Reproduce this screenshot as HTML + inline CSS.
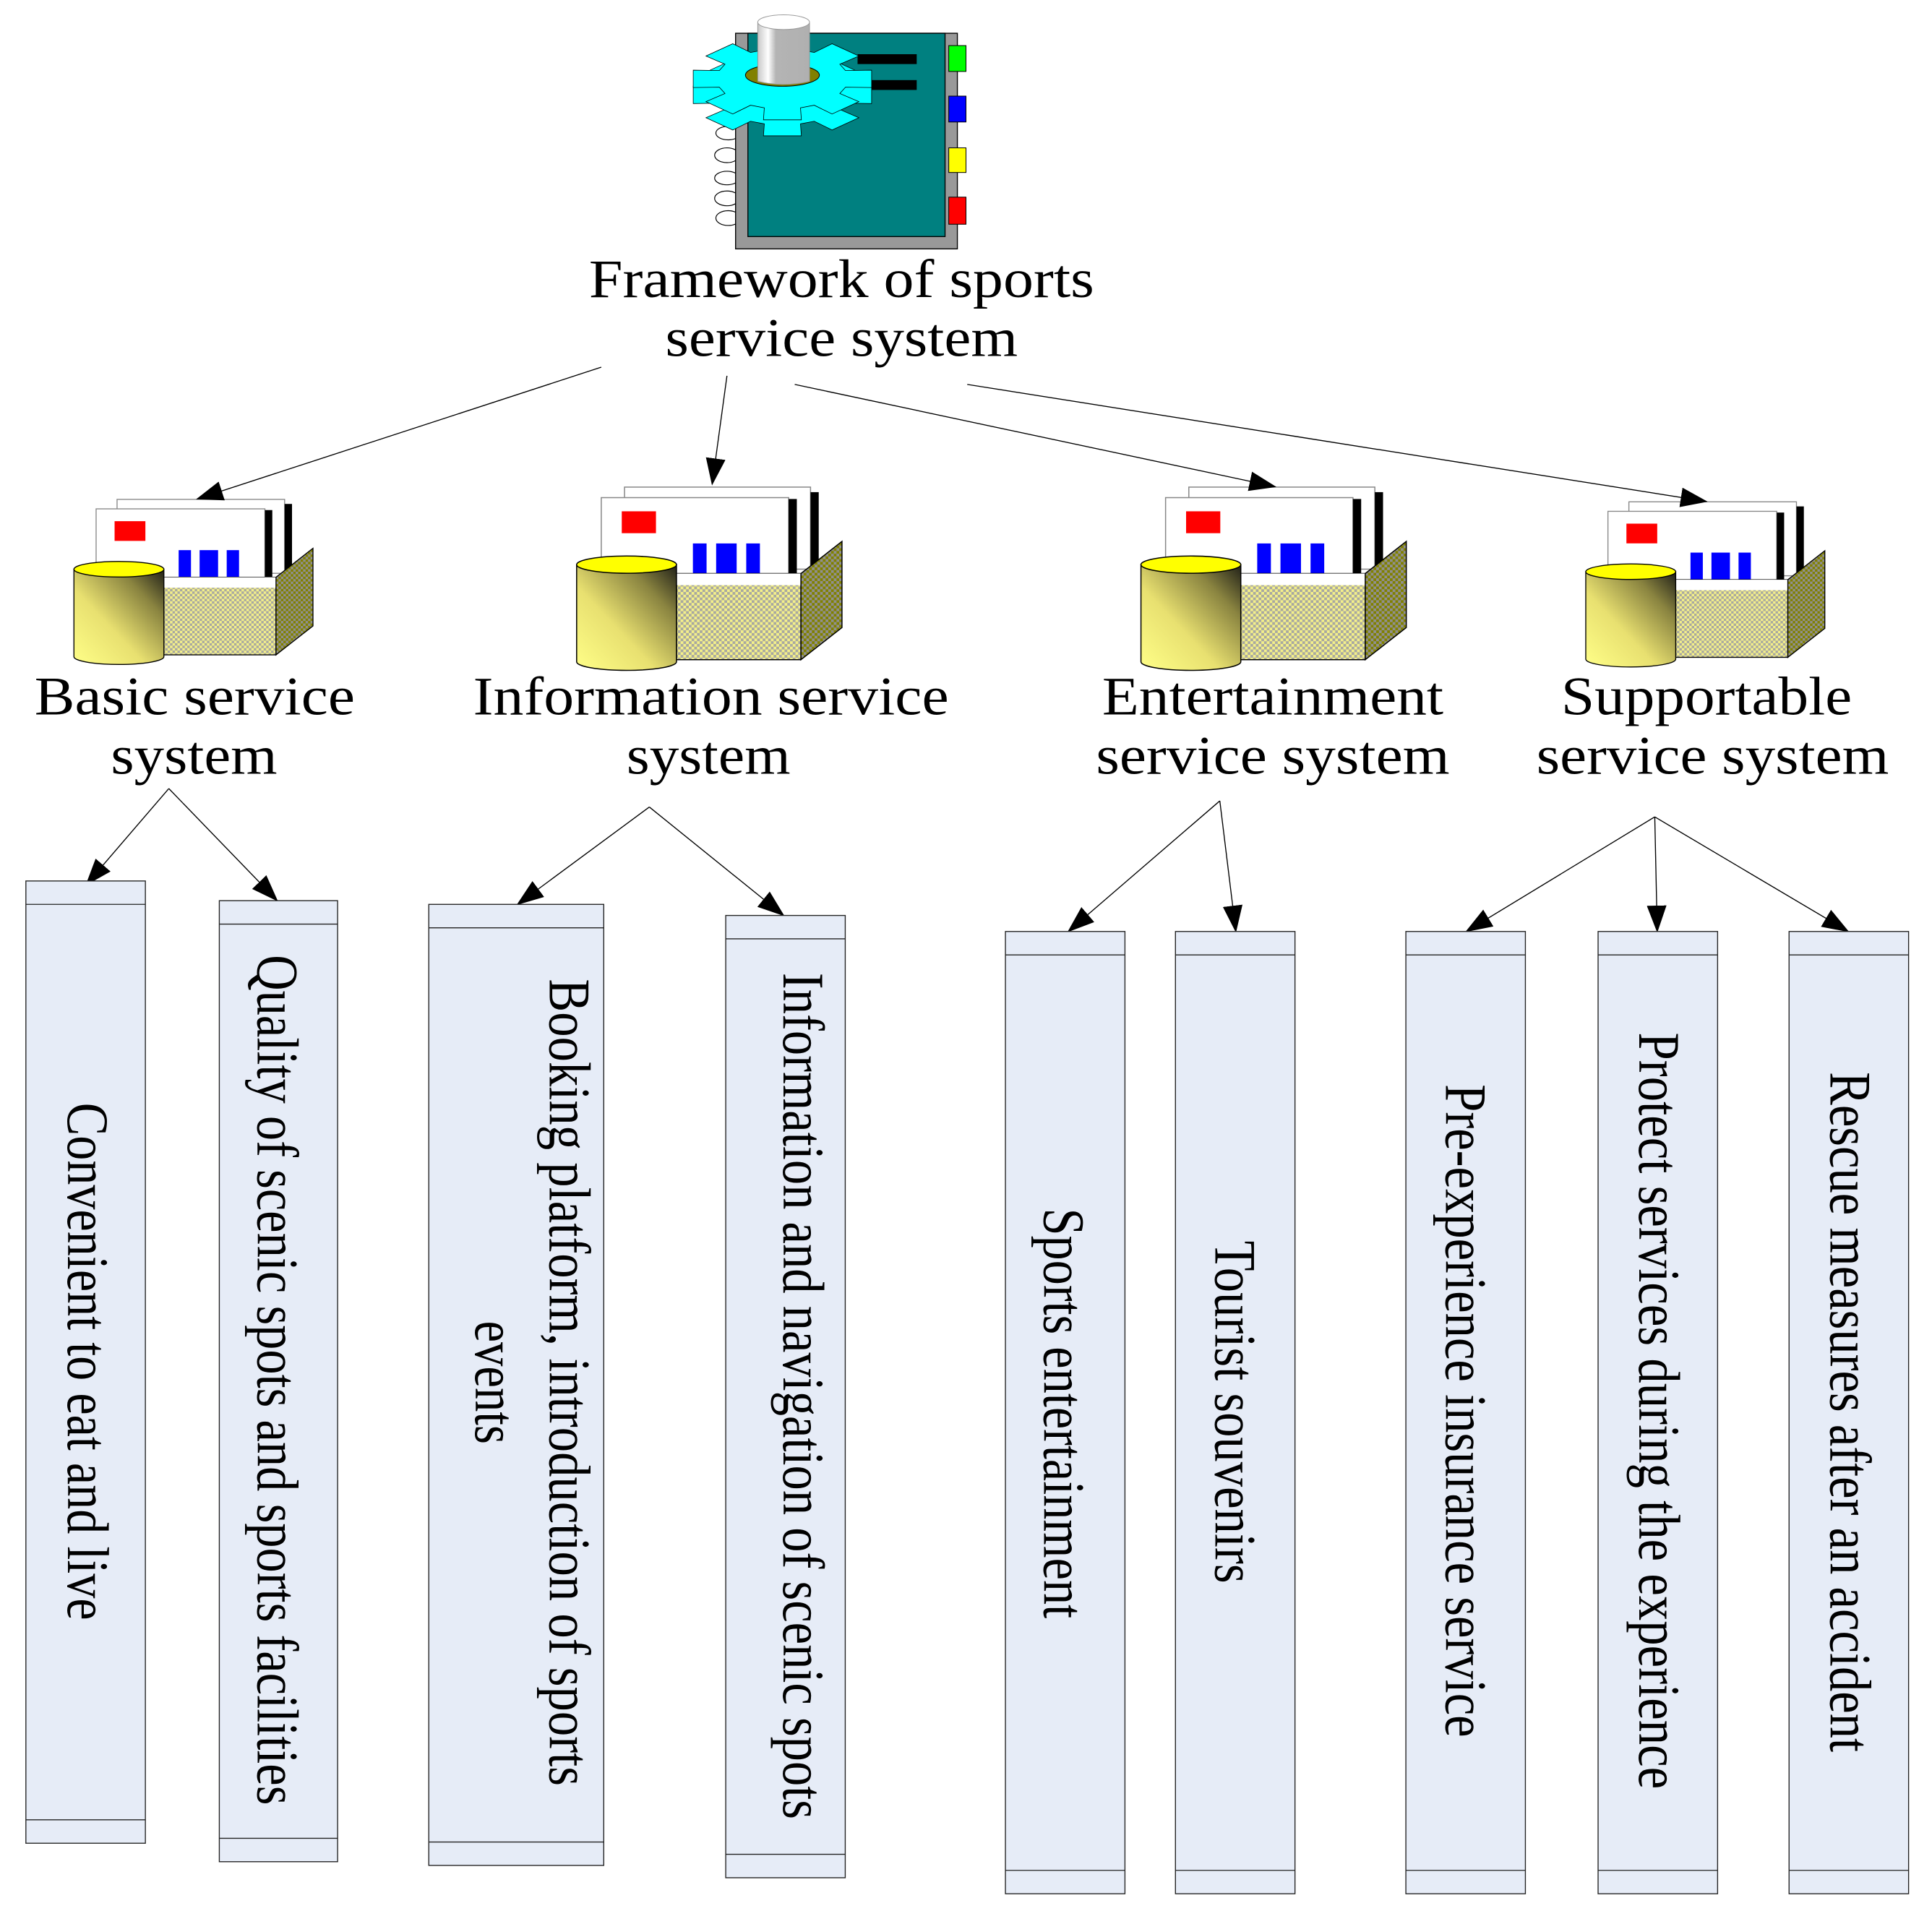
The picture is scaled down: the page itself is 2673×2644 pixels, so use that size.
<!DOCTYPE html>
<html><head><meta charset="utf-8"><style>html,body{margin:0;padding:0;background:#fff}svg{display:block}</style></head>
<body>
<svg width="2673" height="2644" viewBox="0 0 1568 1551" preserveAspectRatio="none" xmlns="http://www.w3.org/2000/svg" font-family="'Liberation Serif', serif">
<defs>
<marker id="ah" markerWidth="22" markerHeight="16" refX="21" refY="8" orient="auto" markerUnits="userSpaceOnUse"><path d="M0,0 L22,8 L0,16 z" fill="#000"/></marker>
<pattern id="chk" width="4" height="4" patternUnits="userSpaceOnUse"><rect width="4" height="4" fill="#f4f08a"/><rect width="2" height="2" fill="#a8a8a0"/><rect x="2" y="2" width="2" height="2" fill="#a8a8a0"/></pattern>
<pattern id="chk2" width="4" height="4" patternUnits="userSpaceOnUse"><rect width="4" height="4" fill="#808000"/><rect width="2" height="2" fill="#909090"/><rect x="2" y="2" width="2" height="2" fill="#909090"/></pattern>
<linearGradient id="cyl" x1="0" y1="1" x2="1" y2="0"><stop offset="0" stop-color="#ffff88"/><stop offset="0.4" stop-color="#e8e070"/><stop offset="0.75" stop-color="#8a8440"/><stop offset="1" stop-color="#202018"/></linearGradient>
<linearGradient id="cg" x1="0" y1="0" x2="1" y2="0"><stop offset="0" stop-color="#c8c8c8"/><stop offset="0.2" stop-color="#fff"/><stop offset="0.35" stop-color="#b4b4b4"/><stop offset="1" stop-color="#b0b0b0"/></linearGradient>
<g id="icon">
 <rect x="95" y="405.3" width="136" height="60" fill="#fff" stroke="#888" stroke-width="0.8"/>
 <rect x="231" y="409" width="6" height="55" fill="#000"/>
 <rect x="78" y="413" width="137" height="58" fill="#fff" stroke="#888" stroke-width="0.8"/>
 <rect x="215" y="414" width="6" height="56" fill="#000"/>
 <rect x="93" y="423" width="25" height="16" fill="#f00"/>
 <rect x="145" y="446.5" width="10" height="22" fill="#00f"/>
 <rect x="162" y="446.5" width="15" height="22" fill="#00f"/>
 <rect x="184" y="446.5" width="10" height="22" fill="#00f"/>
 <polygon points="224,468.5 254,445 254,450 224,470" fill="#d0d0d0"/>
 <rect x="133" y="468.5" width="91" height="63" fill="url(#chk)" stroke="#000" stroke-width="0.8"/>
 <rect x="133" y="468.5" width="91" height="8.5" fill="#fff"/>
 <polygon points="224,468.5 254,445 254,508 224,531.5" fill="url(#chk2)" stroke="#000" stroke-width="0.8"/>
 <path d="M60,462 L60,533 A36.5,6.3 0 0 0 133,533 L133,462 Z" fill="url(#cyl)" stroke="#000" stroke-width="0.8"/>
 <ellipse cx="96.5" cy="462" rx="36.5" ry="6.3" fill="#ff0" stroke="#000" stroke-width="0.8"/>
</g>
<g id="gear"><polygon vector-effect="non-scaling-stroke" points=".6921,-.1984 .9781,-.2079 .9781,.2079 .6921,.1984 .6297,.3491 .8387,.5446 .5446,.8387 .3491,.6297 .1984,.6921 .2079,.9781 -.2079,.9781 -.1984,.6921 -.3491,.6297 -.5446,.8387 -.8387,.5446 -.6297,.3491 -.6921,.1984 -.9781,.2079 -.9781,-.2079 -.6921,-.1984 -.6297,-.3491 -.8387,-.5446 -.5446,-.8387 -.3491,-.6297 -.1984,-.6921 -.2079,-.9781 .2079,-.9781 .1984,-.6921 .3491,-.6297 .5446,-.8387 .8387,-.5446 .6297,-.3491" fill="#00ffff" stroke="#000" stroke-width="0.8"/></g>
</defs>

<g fill="none" stroke="#000" stroke-width="0.7">
 <ellipse cx="591" cy="108" rx="10" ry="5.5"/><ellipse cx="590" cy="126" rx="10" ry="6"/><ellipse cx="590" cy="144.5" rx="10" ry="5.5"/><ellipse cx="590" cy="161" rx="10" ry="6"/><ellipse cx="591" cy="177" rx="10" ry="6"/>
</g>
<rect x="597" y="27" width="180" height="175" fill="#999" stroke="#000" stroke-width="0.8"/>
<rect x="607" y="27" width="160" height="165" fill="#008080" stroke="#000" stroke-width="0.8"/>
<rect x="770" y="37" width="14" height="21" fill="#0f0" stroke="#000" stroke-width="0.6"/>
<rect x="770" y="78" width="14" height="21" fill="#00f" stroke="#000" stroke-width="0.6"/>
<rect x="770" y="120" width="14" height="20" fill="#ff0" stroke="#000" stroke-width="0.6"/>
<rect x="770" y="160" width="14" height="22" fill="#f00" stroke="#000" stroke-width="0.6"/>
<rect x="696" y="44" width="48" height="8" fill="#000"/>
<rect x="696" y="65" width="48" height="8" fill="#000"/>
<use href="#gear" transform="translate(635,77) scale(74,34)"/>
<use href="#gear" transform="translate(635,64) scale(74,34)"/>
<ellipse cx="635" cy="61" rx="30" ry="9" fill="#808000" stroke="#000" stroke-width="0.6"/>
<path d="M615,18 L615,66 Q635,71 657,66 L657,18 Z" fill="url(#cg)" stroke="#999" stroke-width="0.6"/>
<ellipse cx="636" cy="18" rx="21" ry="6" fill="#fff" stroke="#999" stroke-width="0.6"/>

<g font-size="44" text-anchor="middle" fill="#000">
<text x="683" y="241" textLength="410" lengthAdjust="spacingAndGlyphs">Framework of sports</text>
<text x="683" y="289" textLength="286" lengthAdjust="spacingAndGlyphs">service system</text>
<text x="158" y="580" textLength="260" lengthAdjust="spacingAndGlyphs">Basic service</text>
<text x="157.5" y="628" textLength="135" lengthAdjust="spacingAndGlyphs">system</text>
<text x="577" y="580" textLength="386" lengthAdjust="spacingAndGlyphs">Information service</text>
<text x="575" y="628" textLength="133" lengthAdjust="spacingAndGlyphs">system</text>
<text x="1033" y="580" textLength="277" lengthAdjust="spacingAndGlyphs">Entertainment</text>
<text x="1033" y="628" textLength="287" lengthAdjust="spacingAndGlyphs">service system</text>
<text x="1385" y="580" textLength="236" lengthAdjust="spacingAndGlyphs">Supportable</text>
<text x="1390" y="628" textLength="286" lengthAdjust="spacingAndGlyphs">service system</text>
</g>

<use href="#icon"/>
<use href="#icon" transform="translate(401.4,-54.55) scale(1.11)"/>
<use href="#icon" transform="translate(859.4,-54.55) scale(1.11)"/>
<use href="#icon" transform="translate(1227,2)"/>

<g stroke="#000" stroke-width="0.8" fill="none" marker-end="url(#ah)">
<line x1="488" y1="298" x2="160" y2="405"/>
<line x1="590" y1="305" x2="578" y2="393"/>
<line x1="645" y1="312" x2="1035" y2="395"/>
<line x1="785" y1="312" x2="1385" y2="407"/>
<line x1="137" y1="640" x2="70" y2="718"/>
<line x1="137" y1="640" x2="225" y2="731"/>
<line x1="527" y1="655" x2="420" y2="734"/>
<line x1="527" y1="655" x2="636" y2="743"/>
<line x1="990" y1="650" x2="867" y2="756"/>
<line x1="990" y1="650" x2="1003" y2="756"/>
<line x1="1343" y1="663" x2="1190" y2="756"/>
<line x1="1343" y1="663" x2="1345" y2="756"/>
<line x1="1343" y1="663" x2="1500" y2="756"/>
</g>

<g fill="#e6ecf7" stroke="#222" stroke-width="0.8">
<rect x="21" y="715" width="97" height="781"/><path d="M21,734H118M21,1477H118"/>
<rect x="178" y="731" width="96" height="780"/><path d="M178,750H274M178,1492H274"/>
<rect x="348" y="734" width="142" height="780"/><path d="M348,753H490M348,1495H490"/>
<rect x="589" y="743" width="97" height="781"/><path d="M589,762H686M589,1505H686"/>
<rect x="816" y="756" width="97" height="781"/><path d="M816,775H913M816,1518H913"/>
<rect x="954" y="756" width="97" height="781"/><path d="M954,775H1051M954,1518H1051"/>
<rect x="1141" y="756" width="97" height="781"/><path d="M1141,775H1238M1141,1518H1238"/>
<rect x="1297" y="756" width="97" height="781"/><path d="M1297,775H1394M1297,1518H1394"/>
<rect x="1452" y="756" width="97" height="781"/><path d="M1452,775H1549M1452,1518H1549"/>
</g>

<g font-size="48" text-anchor="middle" fill="#000">
<text transform="translate(70,1105) rotate(90)" x="0" y="15" textLength="420" lengthAdjust="spacingAndGlyphs">Convenient to eat and live</text>
<text transform="translate(226,1120) rotate(90)" x="0" y="17" textLength="690" lengthAdjust="spacingAndGlyphs">Quality of scenic spots and sports facilities</text>
<text transform="translate(419,1122) rotate(90)" x="0" y="-27" textLength="655" lengthAdjust="spacingAndGlyphs">Booking platform, introduction of sports</text>
<text transform="translate(419,1122) rotate(90)" x="0" y="33" textLength="100" lengthAdjust="spacingAndGlyphs">events</text>
<text transform="translate(637.5,1133) rotate(90)" x="0" y="1.5" textLength="687" lengthAdjust="spacingAndGlyphs">Information and navigation of scenic spots</text>
<text transform="translate(864.5,1147) rotate(90)" x="0" y="17" textLength="333" lengthAdjust="spacingAndGlyphs">Sports entertainment</text>
<text transform="translate(1002.5,1146) rotate(90)" x="0" y="16" textLength="278" lengthAdjust="spacingAndGlyphs">Tourist souvenirs</text>
<text transform="translate(1189.5,1145) rotate(90)" x="0" y="16" textLength="530" lengthAdjust="spacingAndGlyphs">Pre-experience insurance service</text>
<text transform="translate(1345.5,1145) rotate(90)" x="0" y="15" textLength="614" lengthAdjust="spacingAndGlyphs">Protect services during the experience</text>
<text transform="translate(1500.5,1146) rotate(90)" x="0" y="15" textLength="552" lengthAdjust="spacingAndGlyphs">Rescue measures after an accident</text>
</g>
</svg>
</body></html>
